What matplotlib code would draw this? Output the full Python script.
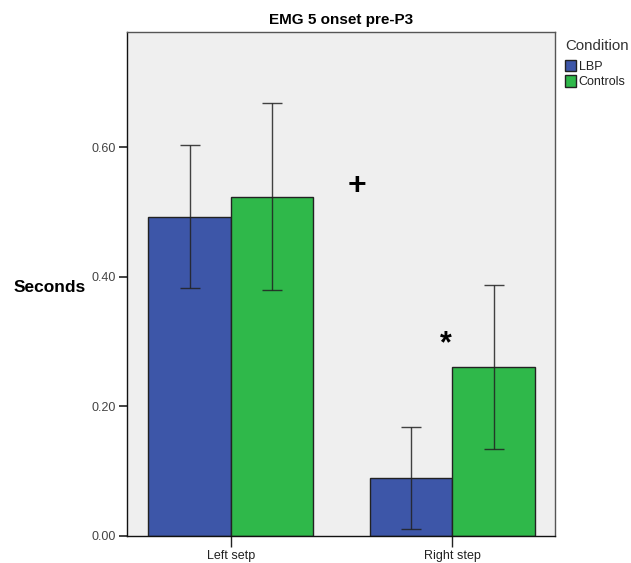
import matplotlib
matplotlib.use("Agg")
import matplotlib.pyplot as plt
import numpy as np

plt.rcParams['font.family'] = ['Liberation Sans', 'DejaVu Sans']

groups = ["Left setp", "Right step"]
conditions = ["LBP", "Controls"]
means = {"LBP": [0.493, 0.089], "Controls": [0.524, 0.261]}
ci_low = {"LBP": [0.383, 0.011], "Controls": [0.380, 0.134]}
ci_high = {"LBP": [0.604, 0.168], "Controls": [0.669, 0.388]}
colors = {"LBP": "#3d56a8", "Controls": "#2fb84a"}
yticks = [0.0, 0.2, 0.4, 0.6]

fig = plt.figure(figsize=(6.31, 5.63), dpi=100)
ax = fig.add_axes([127/631, 27/563, 428/631, 504/563])
ax.set_facecolor("#efefef")

x = np.arange(len(groups))
w = 0.372
for i, c in enumerate(conditions):
    xs = x + (i - 0.5) * w
    m = np.array(means[c])
    lo = m - np.array(ci_low[c])
    hi = np.array(ci_high[c]) - m
    ax.bar(xs, m, width=w, color=colors[c], edgecolor="#222222", linewidth=1.0, label=c, zorder=2)
    ax.errorbar(xs, m, yerr=[lo, hi], fmt="none", ecolor="#222222", elinewidth=1.0,
                capsize=7.2, capthick=1.0, alpha=0.85, zorder=3)

ax.set_xlim(-0.468, 1.463)
ax.set_ylim(0, 0.778)
ax.set_yticks(yticks)
ax.set_yticklabels([f"{t:.2f}" for t in yticks], fontsize=9, color="#444444")
ax.set_xticks(x)
ax.set_xticklabels(groups, fontsize=9, color="#222222")
ax.tick_params(axis="y", length=6, width=1.2, direction="out", color="#222222", pad=2)
ax.tick_params(axis="x", length=8, width=1.0, direction="out", color="#222222", pad=2)
for s in ["left", "bottom"]:
    ax.spines[s].set_color("#111111")
    ax.spines[s].set_linewidth(1.0)
for s in ["top", "right"]:
    ax.spines[s].set_color("#555555")
    ax.spines[s].set_linewidth(1.0)

ax.set_title("EMG 5 onset pre-P3", fontsize=11, fontweight="bold", pad=6)
fig.text(14/631, 1 - 288/563, "Seconds", fontsize=12.5, fontweight="bold", ha="left", va="center")

ax.text(0.5 + 0.07, 0.54, "+", fontsize=23, fontweight="bold", ha="center", va="center")
ax.text(1.0 - 0.03, 0.296, "*", fontsize=22, fontweight="bold", ha="center", va="center")

fig.text(565/631, 1 - 46/563, "Condition", fontsize=10.8, color="#333333", ha="left", va="center")
leg = fig.legend(loc="upper left", bbox_to_anchor=(565/631, 1 - 60/563), frameon=False,
                 fontsize=9, handlelength=0.9, handleheight=1.0,
                 handletextpad=0.2, labelspacing=0.2, borderaxespad=0.0, borderpad=0.0)
for t in leg.get_texts():
    t.set_color("#222222")

fig.savefig("out.png", dpi=100, facecolor="white")
